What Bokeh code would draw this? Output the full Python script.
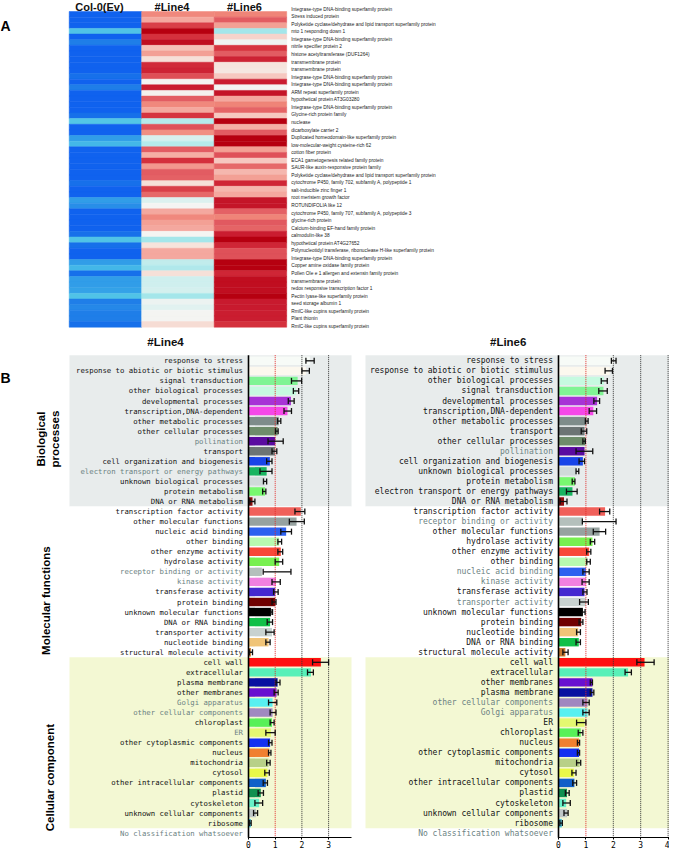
import numpy as np
from bokeh.plotting import figure
from bokeh.models import Range1d, LinearAxis, FixedTicker, ColumnDataSource, LinearColorMapper
from bokeh.core.properties import value
from bokeh.embed import file_html
from bokeh.resources import INLINE

# ------------------------------------------------------------------ panel A data
hm_columns = ["Col-0(Ev)", "#Line4", "#Line6"]
hm_col0 = [-1.2, -1.2, -1.2, -0.6, -1.2, -0.95, -1.2, -1.2, -1.2, -1.2,
           -1.2, -1.05, -1.2, -0.95, -1.2, -1.2, -1.2, -1.2, -1.05, -0.58,
           -1.2, -1.2, -0.8, -0.68, -1.2, -1.2, -1.2, -1.2, -1.2, -1.2,
           -1.05, -1.2, -1.2, -0.8, -0.87, -1.2, -1.2, -1.2, -1.2, -1.05,
           -0.6, -1.05, -1.2, -1.2, -0.8, -0.68, -1.05, -0.8, -0.8, -0.78,
           -0.6, -0.95, -0.9, -0.95, -0.95, -1.05]
hm_line4 = [0.58, 0.43, 0.86, 1.2, 0.92, 1.12, 0.32, 0.47, 0.15, 0.96,
            1.0, 0.8, 0.0, 1.03, 0.03, 0.75, 0.58, 0.43, 0.9, -0.33,
            0.79, 0.55, -0.18, -0.33, 0.75, 0.4, 0.92, 0.5, 0.75, 0.73,
            0.15, 0.86, 0.7, -0.15, 0.0, 0.43, 0.58, 0.47, 0.43, 0.0,
            -0.4, 0.13, 0.43, 0.43, -0.28, -0.35, 0.15, -0.22, -0.22, -0.2,
            -0.4, -0.05, -0.12, 0.0, 0.0, 0.17]
hm_line6 = [0.6, 0.75, 0.47, -0.4, 0.22, -0.03, 0.9, 0.75, 1.0, 0.12,
            0.1, 0.28, 1.03, 0.0, 1.08, 0.43, 0.6, 0.72, 0.28, 1.2,
            0.4, 0.75, 1.2, 1.2, 0.47, 0.79, 0.28, 0.7, 0.36, 0.47,
            0.98, 0.36, 0.43, 1.08, 1.08, 0.73, 0.6, 0.76, 0.72, 1.03,
            1.2, 0.98, 0.79, 0.79, 1.2, 1.2, 0.98, 1.12, 1.12, 1.12,
            1.2, 1.05, 1.05, 1.03, 1.03, 0.92]
gene_labels = [
    "Integrase-type DNA-binding superfamily protein", "Stress induced protein",
    "Polyketide cyclase/dehydrase and lipid transport superfamily protein", "mto 1 responding down 1",
    "Integrase-type DNA-binding superfamily protein", "nitrile specifier protein 2",
    "histone acetyltransferase (DUF1264)", "transmembrane protein", "transmembrane protein",
    "Integrase-type DNA-binding superfamily protein", "Integrase-type DNA-binding superfamily protein",
    "ARM repeat superfamily protein", "hypothetical protein AT3G03280",
    "Integrase-type DNA-binding superfamily protein", "Glycine-rich protein family", "nuclease",
    "dicarboxylate carrier 2", "Duplicated homeodomain-like superfamily protein",
    "low-molecular-weight cysteine-rich 62", "cotton fiber protein",
    "ECA1 gametogenesis related family protein", "SAUR-like auxin-responsive protein family",
    "Polyketide cyclase/dehydrase and lipid transport superfamily protein",
    "cytochrome P450, family 702, subfamily A, polypeptide 1", "salt-inducible zinc finger 1",
    "root meristem growth factor", "ROTUNDIFOLIA like 12",
    "cytochrome P450, family 707, subfamily A, polypeptide 3", "glycine-rich protein",
    "Calcium-binding EF-hand family protein", "calmodulin-like 38", "hypothetical protein AT4G27652",
    "Polynucleotidyl transferase, ribonuclease H-like superfamily protein",
    "Integrase-type DNA-binding superfamily protein", "Copper amine oxidase family protein",
    "Pollen Ole e 1 allergen and extensin family protein", "transmembrane protein",
    "redox responsive transcription factor 1", "Pectin lyase-like superfamily protein",
    "seed storage albumin 1", "RmlC-like cupins superfamily protein", "Plant thionin",
    "RmlC-like cupins superfamily protein"]

# ------------------------------------------------------------------ panel B data
section_names = [["Biological", "processes"], ["Molecular functions"], ["Cellular component"]]
section_sizes = [15, 15, 17]

line4_terms = [
    "response to stress", "response to abiotic or biotic stimulus", "signal transduction",
    "other biological processes", "developmental processes", "transcription,DNA-dependent",
    "other metabolic processes", "other cellular processes", "pollination", "transport",
    "cell organization and biogenesis", "electron transport or energy pathways",
    "unknown biological processes", "protein metabolism", "DNA or RNA metabolism",
    "transcription factor activity", "other molecular functions", "nucleic acid binding",
    "other binding", "other enzyme activity", "hydrolase activity", "receptor binding or activity",
    "kinase activity", "transferase activity", "protein binding", "unknown molecular functions",
    "DNA or RNA binding", "transporter activity", "nucleotide binding", "structural molecule activity",
    "cell wall", "extracellular", "plasma membrane", "other membranes", "Golgi apparatus",
    "other cellular components", "chloroplast", "ER", "other cytoplasmic components", "nucleus",
    "mitochondria", "cytosol", "other intracellular components", "plastid", "cytoskeleton",
    "unknown cellular components", "ribosome", "No classification whatsoever"]
line4_value = [2.3, 2.15, 1.84, 1.78, 1.59, 1.46, 1.13, 1.09, 1.0, 0.99, 0.8, 0.68, 0.63, 0.62, 0.15,
               1.96, 1.8, 1.41, 1.15, 1.21, 1.15, 0.5, 1.03, 1.0, 1.0, 0.84, 0.81, 0.88, 0.75, 0.09,
               2.71, 2.34, 1.09, 1.05, 0.9, 0.9, 0.88, 0.84, 0.81, 0.78, 0.75, 0.71, 0.65, 0.46, 0.4,
               0.28, 0.09, 0.0]
line4_lo = [2.15, 2.0, 1.61, 1.68, 1.49, 1.33, 1.09, 1.01, 0.73, 0.88, 0.68, 0.43, 0.56, 0.53, 0.05,
            1.74, 1.53, 1.21, 1.1, 1.1, 1.0, 0.55, 0.88, 0.94, 0.88, 0.84, 0.7, 0.65, 0.65, 0.03,
            2.4, 2.21, 1.03, 0.96, 0.75, 0.81, 0.81, 0.65, 0.75, 0.75, 0.68, 0.61, 0.55, 0.36, 0.24,
            0.19, 0.03, 0.0]
line4_hi = [2.46, 2.28, 1.99, 1.88, 1.71, 1.61, 1.21, 1.11, 1.3, 1.06, 0.88, 0.88, 0.68, 0.65, 0.24,
            2.11, 2.09, 1.61, 1.24, 1.28, 1.28, 1.59, 1.19, 1.11, 1.03, 0.9, 0.9, 0.96, 0.81, 0.15,
            3.0, 2.43, 1.18, 1.11, 1.06, 1.03, 0.96, 1.0, 0.88, 0.84, 0.81, 0.78, 0.71, 0.56, 0.53,
            0.34, 0.1, 0.0]

line6_terms = [
    "response to stress", "response to abiotic or biotic stimulus", "other biological processes",
    "signal transduction", "developmental processes", "transcription,DNA-dependent",
    "other metabolic processes", "transport", "other cellular processes", "pollination",
    "cell organization and biogenesis", "unknown biological processes", "protein metabolism",
    "electron transport or energy pathways", "DNA or RNA metabolism",
    "transcription factor activity", "receptor binding or activity", "other molecular functions",
    "hydrolase activity", "other enzyme activity", "other binding", "nucleic acid binding",
    "kinase activity", "transferase activity", "transporter activity", "unknown molecular functions",
    "protein binding", "nucleotide binding", "DNA or RNA binding", "structural molecule activity",
    "cell wall", "extracellular", "other membranes", "plasma membrane", "other cellular components",
    "Golgi apparatus", "ER", "chloroplast", "nucleus", "other cytoplasmic components",
    "mitochondria", "cytosol", "other intracellular components", "plastid", "cytoskeleton",
    "unknown cellular components", "ribosome", "No classification whatsoever"]
line6_value = [1.99, 1.87, 1.66, 1.64, 1.41, 1.27, 1.03, 0.95, 0.97, 0.95, 0.89, 0.66, 0.6, 0.51, 0.2,
               1.7, 0.89, 1.5, 1.24, 1.12, 1.06, 1.0, 1.0, 0.95, 1.0, 0.89, 0.83, 0.72, 0.74, 0.25,
               3.14, 2.54, 1.24, 1.24, 1.06, 1.06, 0.95, 0.81, 0.75, 0.75, 0.77, 0.57, 0.58, 0.31,
               0.28, 0.31, 0.12, 0.0]
line6_lo = [1.93, 1.7, 1.56, 1.47, 1.29, 1.12, 0.98, 0.83, 0.89, 0.64, 0.75, 0.64, 0.5, 0.29, 0.06,
            1.5, 0.87, 1.27, 1.16, 1.03, 1.03, 0.89, 0.86, 0.89, 0.77, 0.87, 0.75, 0.66, 0.64, 0.16,
            2.86, 2.43, 1.16, 1.16, 0.89, 0.89, 0.66, 0.72, 0.69, 0.69, 0.66, 0.49, 0.52, 0.25,
            0.16, 0.2, 0.05, 0.0]
line6_hi = [2.1, 1.97, 1.78, 1.78, 1.5, 1.39, 1.08, 1.03, 0.98, 1.25, 0.95, 0.74, 0.6, 0.68, 0.31,
            1.87, 2.1, 1.72, 1.32, 1.18, 1.16, 1.12, 1.12, 1.04, 1.09, 0.97, 0.89, 0.8, 0.8, 0.35,
            3.49, 2.66, 1.24, 1.29, 1.12, 1.12, 1.0, 0.89, 0.77, 0.77, 0.81, 0.64, 0.66, 0.39,
            0.43, 0.35, 0.14, 0.0]

line4_ticks = [0, 1, 2, 3]
line6_ticks = [0, 1, 2, 3, 4]

# ------------------------------------------------------------------ styles
term_colors = {
    "response to stress": "#f7fbf7", "response to abiotic or biotic stimulus": "#fcf8ee",
    "signal transduction": "#80f494", "other biological processes": "#c6fae0",
    "developmental processes": "#a833d6", "transcription,DNA-dependent": "#f548e8",
    "other metabolic processes": "#7e8c8a", "other cellular processes": "#6e8c6a",
    "pollination": "#5a0aa0", "transport": "#6c7474", "cell organization and biogenesis": "#1844e8",
    "electron transport or energy pathways": "#18b460", "unknown biological processes": "#d0dada",
    "protein metabolism": "#78f870", "DNA or RNA metabolism": "#8c0c0c",
    "transcription factor activity": "#f0605a", "other molecular functions": "#96a2a0",
    "nucleic acid binding": "#2c60f0", "other binding": "#b8fab0", "other enzyme activity": "#f84838",
    "hydrolase activity": "#78f050", "receptor binding or activity": "#b4c0bc",
    "kinase activity": "#f080e0", "transferase activity": "#4428d0", "protein binding": "#700000",
    "unknown molecular functions": "#000000", "DNA or RNA binding": "#10c048",
    "transporter activity": "#c8d2d0", "nucleotide binding": "#f0c478",
    "structural molecule activity": "#c87830", "cell wall": "#ff1010", "extracellular": "#58f0b8",
    "plasma membrane": "#0810a0", "other membranes": "#6810d0", "Golgi apparatus": "#58f0f0",
    "other cellular components": "#a088c0", "chloroplast": "#58f058", "ER": "#e4f870",
    "other cytoplasmic components": "#1430f0", "nucleus": "#f08030", "mitochondria": "#b8d088",
    "cytosol": "#e8f848", "other intracellular components": "#1060c8", "plastid": "#109050",
    "cytoskeleton": "#68f0c8", "unknown cellular components": "#c0c8c8", "ribosome": "#40c0e0",
    "No classification whatsoever": "#ffffff"}
line4_grey = {"pollination", "electron transport or energy pathways", "receptor binding or activity",
              "kinase activity", "Golgi apparatus", "other cellular components", "ER",
              "No classification whatsoever"}
line6_grey = {"pollination", "receptor binding or activity", "nucleic acid binding", "kinase activity",
              "transporter activity", "other cellular components", "Golgi apparatus",
              "No classification whatsoever"}
section_bg = ["#e8ecec", "#ffffff", "#f3f8d3"]
GREY_TXT = "#6b8282"

anchors = [(-1.2, "#1062ee"), (-1.0, "#1a74e8"), (-0.85, "#2a92e8"), (-0.7, "#40b4e8"),
           (-0.55, "#58cae6"), (-0.4, "#a4e6ea"), (-0.2, "#d4f0ee"), (0.0, "#f4f4f2"),
           (0.15, "#f6e0d8"), (0.3, "#f6c4bc"), (0.45, "#f4a49a"), (0.6, "#ef8478"),
           (0.75, "#e25c62"), (0.9, "#d6343f"), (1.05, "#c81a2e"), (1.2, "#b60010")]


def _rgb(h):
    return [int(h[i:i + 2], 16) for i in (1, 3, 5)]


av = np.array([a[0] for a in anchors])
ac = np.array([_rgb(a[1]) for a in anchors], dtype=float)
grid = np.linspace(-1.2, 1.2, 241)
palette = ["#%02x%02x%02x" % tuple(int(round(np.interp(g, av, ac[:, k]))) for k in range(3)) for g in grid]
mapper = LinearColorMapper(palette=palette, low=-1.2, high=1.2)

# ------------------------------------------------------------------ layout (px)
W, H = 669, 849
OFF = 8                      # page margin: screen px -> canvas px
HM_L, HM_T, HM_B, HM_CW = 76.7 - OFF, 19 - OFF, 334.7 - OFF, 72.5
HM_RH = (HM_B - HM_T) / len(hm_col0)
GL_T, GL_STEP = 16.7 - OFF, 7.55
ROW0, ROW_STEP = 368.3 - OFF, 10.05
PANEL_TOP = 362.7 - OFF
AXIS_ROW = len(line4_terms) - 1 + 0.46

p = figure(width=W, height=H, output_backend="svg", toolbar_location=None,
           x_range=Range1d(0, W), y_range=Range1d(H, 0),
           x_axis_type=None, y_axis_type=None, min_border=0, title=None)
p.outline_line_color = None
p.background_fill_color = "white"
p.border_fill_color = "white"

panels = {
    "l": dict(terms=line4_terms, vals=line4_value, lo=line4_lo, hi=line4_hi, ticks=line4_ticks,
              zero=256 - OFF, unit=26.7, left=77 - OFF, right=359 - OFF, fs=7.3, grey=line4_grey,
              title="#Line4", title_x=173 - OFF),
    "r": dict(terms=line6_terms, vals=line6_value, lo=line6_lo, hi=line6_hi, ticks=line6_ticks,
              zero=566 - OFF, unit=27.4, left=373 - OFF, right=W, fs=8.0, grey=line6_grey,
              title="#Line6", title_x=515.7 - OFF),
}

xr = {"hx": Range1d(-HM_L / HM_CW, (W - HM_L) / HM_CW)}
yr = {"hy": Range1d((H - HM_T) / HM_RH, -HM_T / HM_RH),
      "gy": Range1d((H - GL_T) / GL_STEP, -GL_T / GL_STEP)}
for k, d in panels.items():
    xr[k + "x"] = Range1d(-d["zero"] / d["unit"], (W - d["zero"]) / d["unit"])
    yr[k + "y"] = Range1d((H - ROW0) / ROW_STEP, -ROW0 / ROW_STEP)
p.extra_x_ranges = xr
p.extra_y_ranges = yr

# ------------------------------------------------------------------ panel A
cx, cy, cv = [], [], []
for j, col in enumerate([hm_col0, hm_line4, hm_line6]):
    for i, v in enumerate(col):
        cx.append(j + 0.5)
        cy.append(i + 0.5)
        cv.append(v)
hsrc = ColumnDataSource(dict(x=cx, y=cy, v=cv))
p.rect(x="x", y="y", width=1, height=1, source=hsrc,
       fill_color={"field": "v", "transform": mapper},
       line_color={"field": "v", "transform": mapper}, line_width=0.5,
       x_range_name="hx", y_range_name="hy")

p.text(x=[j + 0.5 for j in range(len(hm_columns))], y=[yr["hy"].end] * len(hm_columns),
       text=hm_columns, x_offset=-6, text_align="center", text_baseline="top",
       text_font=value("Liberation Sans"), text_font_style="bold", text_font_size="11px",
       text_color="#111111", x_range_name="hx", y_range_name="hy")

p.text(x=[len(hm_columns)] * len(gene_labels), y=list(range(len(gene_labels))), text=gene_labels,
       x_offset=4.5, text_align="left", text_baseline="middle",
       text_font=value("Liberation Sans"), text_font_size="4.8px", text_color="#222222",
       x_range_name="hx", y_range_name="gy")

p.text(x=[0, 0], y=[25, 377], text=["A", "B"], text_align="left", text_baseline="middle",
       text_font=value("Liberation Sans"), text_font_style="bold", text_font_size="14px",
       text_color="#000000")

# ------------------------------------------------------------------ panel B
bounds = np.cumsum([0] + section_sizes) - 0.5
top_row = (PANEL_TOP - ROW0) / ROW_STEP

for k, d in panels.items():
    xn, yn = k + "x", k + "y"
    x_left = (d["left"] - d["zero"]) / d["unit"]
    x_right = (d["right"] - d["zero"]) / d["unit"]
    n = len(d["terms"])
    rows = list(range(n))
    # section backgrounds
    tops = [top_row] + list(bounds[1:-1])
    bots = list(bounds[1:])
    p.quad(left=[x_left] * 3, right=[x_right] * 3, top=tops, bottom=bots,
           fill_color=section_bg, line_color=None, x_range_name=xn, y_range_name=yn)
    # bars
    p.hbar(y=rows, left=0, right=d["vals"], height=0.84,
           fill_color=[term_colors[t] for t in d["terms"]], line_color=None,
           x_range_name=xn, y_range_name=yn)
    # reference lines
    tk = d["ticks"][1:]
    p.segment(x0=tk, x1=tk, y0=[top_row] * len(tk), y1=[AXIS_ROW] * len(tk),
              line_color=["#e02828"] + ["#333333"] * (len(tk) - 1), line_dash="1 1",
              line_width=1, x_range_name=xn, y_range_name=yn)
    p.segment(x0=[0], x1=[0], y0=[top_row], y1=[AXIS_ROW], line_color="#000000",
              line_width=1.6, x_range_name=xn, y_range_name=yn)
    # error bars
    er = [i for i in rows if d["hi"][i] > 0]
    lo = [d["lo"][i] for i in er]
    hi = [d["hi"][i] for i in er]
    p.segment(x0=lo, x1=hi, y0=er, y1=er, line_color="#111111", line_width=1.3,
              x_range_name=xn, y_range_name=yn)
    p.segment(x0=lo + hi, x1=lo + hi, y0=[r - 0.3 for r in er] * 2, y1=[r + 0.3 for r in er] * 2,
              line_color="#111111", line_width=1.3, x_range_name=xn, y_range_name=yn)
    # term labels
    p.text(x=[0] * n, y=rows, text=d["terms"], x_offset=-5.5, text_align="right",
           text_baseline="middle", text_font=value("DejaVu Sans Mono"),
           text_font_size=f"{d['fs']}px",
           text_color=[GREY_TXT if t in d["grey"] else "#111111" for t in d["terms"]],
           x_range_name=xn, y_range_name=yn)
    # title
    p.text(x=[d["title_x"]], y=[341], text=[d["title"]], text_align="center",
           text_baseline="middle", text_font=value("Liberation Sans"), text_font_style="bold",
           text_font_size="11.5px", text_color="#111111")
    # axis
    ax = LinearAxis(x_range_name=xn, y_range_name=yn, fixed_location=AXIS_ROW,
                    ticker=FixedTicker(ticks=d["ticks"]), bounds=(0, x_right))
    ax.axis_line_width = 1.2
    ax.axis_line_color = "#000000"
    ax.major_tick_in = 0
    ax.major_tick_out = 2
    ax.minor_tick_in = 0
    ax.minor_tick_out = 0
    ax.major_label_standoff = 1
    ax.major_label_text_font = "DejaVu Sans Mono"
    ax.major_label_text_font_size = "8px"
    ax.major_label_text_color = "#000000"
    p.add_layout(ax, "below")

# section labels (left panel coordinates)
sec_x = [[-7.79, -7.25], [-7.6], [-7.45]]
sec_y = [7.79, 23.86, 41.47]
for names, xs, yv in zip(section_names, sec_x, sec_y):
    p.text(x=xs, y=[yv] * len(names), text=names, angle=np.pi / 2, text_align="center",
           text_baseline="middle", text_font=value("Liberation Sans"), text_font_style="bold",
           text_font_size="11.5px", text_color="#000000", x_range_name="lx", y_range_name="ly")

open("out.html", "w").write(file_html(p, INLINE))
